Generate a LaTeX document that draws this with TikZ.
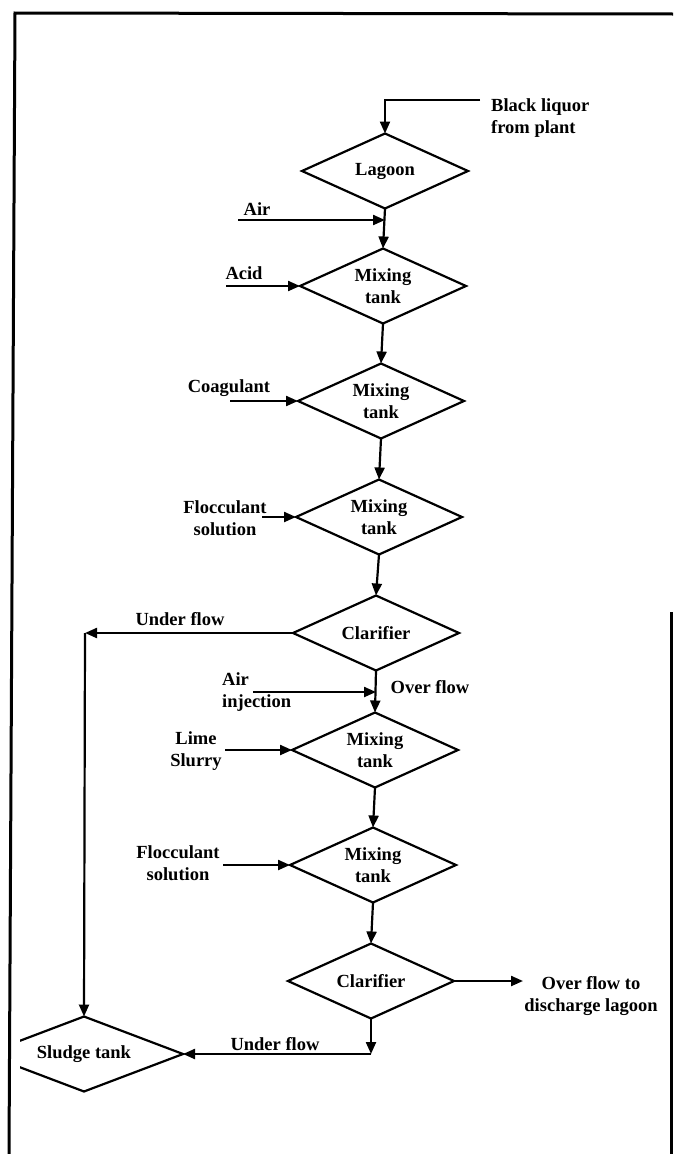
\documentclass[tikz,border=0pt]{standalone}
\usepackage{fontspec}
\setmainfont{Liberation Serif}
\usetikzlibrary{shapes.geometric,arrows.meta}
\begin{document}
\begin{tikzpicture}[x=1pt,y=-1pt,
  every node/.style={font=\bfseries\fontsize{18.5}{22}\selectfont},
  tank/.style={draw, line width=2.2pt, shape=diamond, shape aspect=2.2,
    minimum width=166pt, minimum height=75pt, inner sep=0pt, outer sep=0pt, align=center},
  lbl/.style={inner sep=0pt, align=center},
  flow/.style={line width=2.2pt, -{Triangle[length=12pt,width=10pt]}},
  frame/.style={line width=3pt}]
\useasboundingbox (0,0) rectangle (673,1154);
% frame
\draw[frame] (673,14) -- (15,13) -- (9,1154);
\draw[frame] (671,612) -- (671,1154);
% tanks
\node[tank] (lagoon) at (385,171) {Lagoon};
\node[tank] (mixa) at (383,286) {Mixing\\tank};
\node[tank] (mixb) at (381,401) {Mixing\\tank};
\node[tank] (mixc) at (379,517) {Mixing\\tank};
\node[tank] (clara) at (376,633) {Clarifier};
\node[tank] (mixd) at (375,750) {Mixing\\tank};
\node[tank] (mixe) at (373,865) {Mixing\\tank};
\node[tank] (clarb) at (371,981) {Clarifier};
\begin{scope}
\clip (20,0) rectangle (673,1154);
\node[tank, minimum width=198pt] (sludge) at (84,1054) {Sludge tank};
\end{scope}
% black liquor
\node[lbl, anchor=west, align=left] (blt) at (491,118) {Black liquor\\from plant};
\coordinate (bls) at (480,100);
\draw[flow] (bls) -| (lagoon.north);
% air
\node[lbl] (airt) at (257,209) {Air};
\coordinate (airs) at (238,220);
\draw[flow] (airs) -- (airs -| lagoon.south);
\draw[flow] (lagoon.south) -- (mixa.north);
% acid
\node[lbl] (acidt) at (244,273) {Acid};
\coordinate (acids) at (226,286);
\draw[flow] (acids) -- (mixa.west);
\draw[flow] (mixa.south) -- (mixb.north);
% coagulant
\node[lbl] (coagt) at (229,388) {Coagulant};
\coordinate (coags) at (230,401);
\draw[flow] (coags) -- (mixb.west);
\draw[flow] (mixb.south) -- (mixc.north);
% flocculant 1
\node[lbl] (floct) at (225,518) {Flocculant\\solution};
\coordinate (flocs) at (262,517);
\draw[flow] (flocs) -- (mixc.west);
\draw[flow] (mixc.south) -- (clara.north);
% under flow 1
\node[lbl] (uft) at (180,619) {Under flow};
\coordinate (ufc) at (85,633);
\draw[flow] (clara.west) -- (ufc);
\draw[flow] (ufc) -- (sludge.north);
% over flow
\draw[flow] (clara.south) -- (mixd.north);
\node[lbl] (oft) at (430,687) {Over flow};
\node[lbl, anchor=west, align=left] (aijt) at (222,692) {Air\\injection};
\coordinate (aijs) at (253,692);
\draw[flow] (aijs) -- (aijs -| clara.south);
% lime
\node[lbl] (limet) at (196,751) {Lime\\Slurry};
\coordinate (limes) at (225,750);
\draw[flow] (limes) -- (mixd.west);
\draw[flow] (mixd.south) -- (mixe.north);
% flocculant 2
\node[lbl] (flocbt) at (178,863) {Flocculant\\solution};
\coordinate (flocbs) at (223,865);
\draw[flow] (flocbs) -- (mixe.west);
\draw[flow] (mixe.south) -- (clarb.north);
% clarifier 2 outputs
\coordinate (ofs) at (523,981);
\draw[flow] (clarb.east) -- (ofs);
\node[lbl] (oftt) at (591,996) {Over flow to\\discharge lagoon};
\coordinate (ufb) at (clarb.south |- sludge.east);
\draw[flow] (clarb.south) -- (ufb);
\draw[flow] (ufb) -- (sludge.east);
\node[lbl] (ufbt) at (275,1044) {Under flow};
\end{tikzpicture}
\end{document}
